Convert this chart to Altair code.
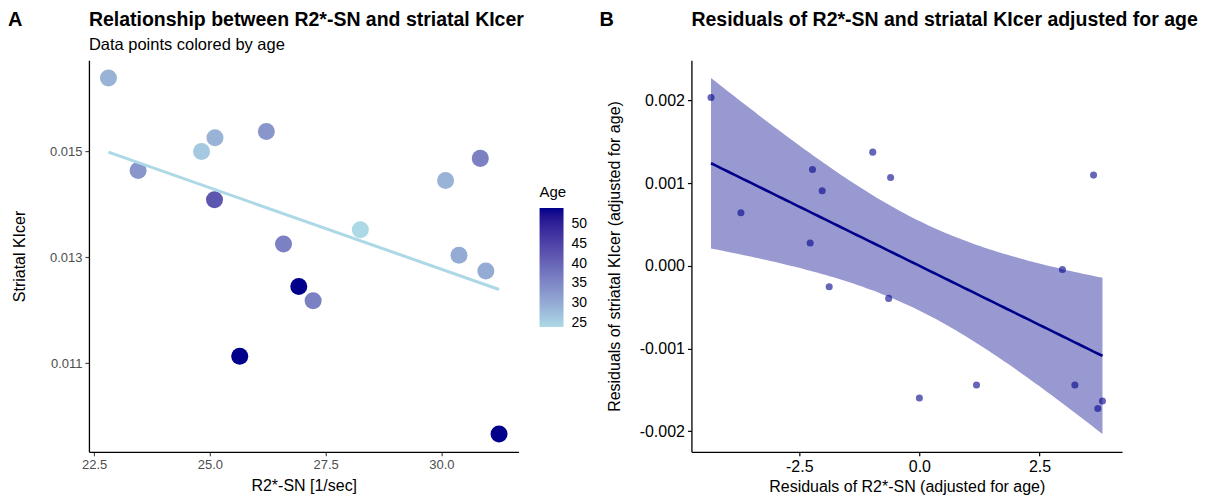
import altair as alt
import pandas as pd
import numpy as np

FONT = "Liberation Sans"

# ---------- Panel A data ----------
r2_sn = [22.81, 23.45, 25.11, 24.82, 26.22, 25.10, 30.09, 30.84,
         28.25, 26.59, 30.38, 30.96, 26.92, 27.23, 25.645, 31.245]
kicer = [0.01639, 0.01464, 0.01526, 0.01500, 0.01538, 0.01409, 0.01445, 0.01487,
         0.01352, 0.01325, 0.01304, 0.01274, 0.01245, 0.01218, 0.01113, 0.00966]
age = [29, 33, 29, 26, 33, 42, 29, 36, 24, 36, 30, 30, 54, 36, 54, 54]

# ---------- Panel B data ----------
res_r2 = [-4.337, -3.714, -2.225, -2.023, -0.971, -0.599, 3.625, -2.273,
          -1.877, -0.639, 2.977, 0.0, 1.189, 3.236, 3.714, 3.811]
res_kicer = [0.002036, 0.000641, 0.001165, 0.000907, 0.001375, 0.001069, 0.001097, 0.000276,
             -0.000254, -0.000394, -0.000044, -0.001598, -0.001441, -0.001441, -0.001726, -0.001634]

age_ticks = [25, 30, 35, 40, 45, 50]
age_limits = [24, 54]
xa_ticks = [22.5, 25.0, 27.5, 30.0]
ya_ticks = [0.011, 0.013, 0.015]
xb_ticks = [-2.5, 0.0, 2.5]
yb_ticks = [-0.002, -0.001, 0.0, 0.001, 0.002]


def expand(lo, hi, f=0.05):
    d = (hi - lo) * f
    return [lo - d, hi + d]


df_a = pd.DataFrame({"r2": r2_sn, "kicer": kicer, "age": age})
xa_dom = expand(min(r2_sn), max(r2_sn))
ya_dom = expand(min(kicer), max(kicer))

# linear fit with 95% CI for panel B
xb = np.array(res_r2)
yb = np.array(res_kicer)
n = len(xb)
xm, ym = xb.mean(), yb.mean()
sxx = ((xb - xm) ** 2).sum()
slope = ((xb - xm) * (yb - ym)).sum() / sxx
icpt = ym - slope * xm
resid = yb - (icpt + slope * xb)
s = np.sqrt((resid ** 2).sum() / (n - 2))
T_CRIT = 2.1448  # t quantile 0.975, df = 14
grid = np.linspace(xb.min(), xb.max(), 100)
fit = icpt + slope * grid
se = s * np.sqrt(1.0 / n + (grid - xm) ** 2 / sxx)
df_fit = pd.DataFrame({"x": grid, "fit": fit, "lo": fit - T_CRIT * se, "hi": fit + T_CRIT * se})
df_b = pd.DataFrame({"rx": res_r2, "ry": res_kicer})
xb_dom = expand(xb.min(), xb.max())
yb_dom = expand(min(yb.min(), df_fit["lo"].min()), max(yb.max(), df_fit["hi"].max()))

one = pd.DataFrame({"k": [0]})


def label_text(txt, x, y, size, weight="normal"):
    return alt.Chart(one).mark_text(
        text=txt, fontSize=size, fontWeight=weight, align="left",
        baseline="alphabetic", color="black", font=FONT
    ).encode(x=alt.value(x), y=alt.value(y))


# ---------- Panel A ----------
axA_x = alt.Axis(values=xa_ticks, format=".1f", title="R2*-SN [1/sec]",
                 labelColor="#4D4D4D", labelFontSize=13, tickColor="#4D4D4D",
                 labelPadding=3, titlePadding=6, titleFontSize=16)
axA_y = alt.Axis(values=ya_ticks, format=".3f", title="Striatal KIcer",
                 labelColor="#4D4D4D", labelFontSize=13, tickColor="#4D4D4D",
                 labelPadding=3, titlePadding=22, titleFontSize=16)

points_a = alt.Chart(df_a).mark_circle(size=290, opacity=1).encode(
    x=alt.X("r2:Q", scale=alt.Scale(domain=xa_dom, nice=False, zero=False), axis=axA_x),
    y=alt.Y("kicer:Q", scale=alt.Scale(domain=ya_dom, nice=False, zero=False), axis=axA_y),
    color=alt.Color("age:Q",
                    scale=alt.Scale(domain=age_limits, range=["#ADD8E6", "#00008B"], interpolate="lab"),
                    legend=alt.Legend(title="Age", orient="none", legendX=451, legendY=125,
                                      values=age_ticks, gradientLength=119, gradientThickness=24,
                                      titleFontSize=15, titleFontWeight="normal", labelFontSize=14,
                                      labelOffset=8, titlePadding=8, gradientStrokeWidth=0,
                                      direction="vertical")),
)
line_a = alt.Chart(df_a).transform_regression("r2", "kicer").mark_line(
    color="#ADD8E6", strokeWidth=3).encode(x="r2:Q", y="kicer:Q")

panel_a = alt.layer(
    points_a, line_a,
    label_text("A", -81, -34, 20, "bold"),
    label_text("Relationship between R2*-SN and striatal KIcer", 0, -34, 19.5, "bold"),
    label_text("Data points colored by age", 0, -10, 16.5),
).properties(width=430, height=392)

# ---------- Panel B ----------
minus_fix = "replace(format(datum.value, '{f}'), '\u2212', '-')"
axB_x = alt.Axis(values=xb_ticks, labelExpr=minus_fix.format(f=".1f"),
                 title="Residuals of R2*-SN (adjusted for age)", labelColor="black",
                 labelFontSize=16, tickColor="black", labelPadding=3, titlePadding=4,
                 titleFontSize=16)
axB_y = alt.Axis(values=yb_ticks, labelExpr=minus_fix.format(f=".3f"),
                 title="Residuals of striatal KIcer (adjusted for age)", labelColor="black",
                 labelFontSize=16, tickColor="black", labelPadding=3, titlePadding=17,
                 titleFontSize=16)

band_b = alt.Chart(df_fit).mark_area(color="#00008B", opacity=0.4).encode(
    x=alt.X("x:Q", scale=alt.Scale(domain=xb_dom, nice=False, zero=False), axis=axB_x),
    y=alt.Y("lo:Q", scale=alt.Scale(domain=yb_dom, nice=False, zero=False), axis=axB_y),
    y2="hi:Q",
)
line_b = alt.Chart(df_fit).mark_line(color="#00008B", strokeWidth=2.6).encode(
    x="x:Q", y="fit:Q")
pts_b = alt.Chart(df_b).mark_circle(size=50, color="#00008B", opacity=0.6).encode(
    x="rx:Q", y="ry:Q")

panel_b = alt.layer(
    band_b, line_b, pts_b,
    label_text("B", -92, -34, 20, "bold"),
    label_text("Residuals of R2*-SN and striatal KIcer adjusted for age", 0, -34, 19.5, "bold"),
).properties(width=431, height=392)

chart = alt.hconcat(panel_a, panel_b, spacing=75).configure(
    padding={"left": 0, "top": 2, "right": 0, "bottom": 0}
).configure_view(stroke=None).configure_axis(
    grid=False, domainColor="black", domainWidth=1.3, tickSize=4, tickWidth=1.2,
    labelFont=FONT, titleFont=FONT, titleFontWeight="normal", titleColor="black"
).configure_legend(labelFont=FONT, titleFont=FONT, labelColor="black", titleColor="black")

chart.save("out.html", embed_options={"renderer": "svg", "actions": False})
